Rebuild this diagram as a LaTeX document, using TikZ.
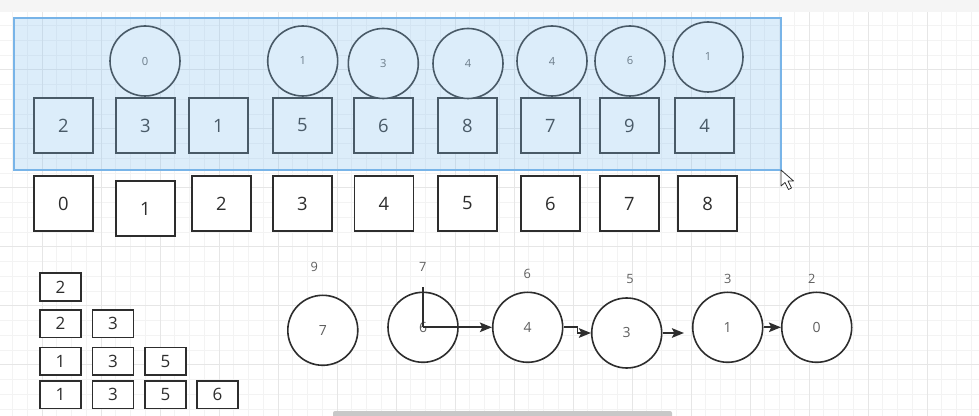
\documentclass[tikz,border=0pt]{standalone}
\usepackage{fontspec}
\setmainfont{Open Sans}
\usetikzlibrary{positioning,arrows.meta}
\definecolor{gridminor}{RGB}{243,243,243}
\definecolor{gridmajor}{RGB}{230,230,230}
\definecolor{topgray}{RGB}{245,245,245}
\definecolor{selblue}{RGB}{140,196,240}
\definecolor{selline}{RGB}{120,180,232}
\definecolor{ink}{RGB}{45,45,45}
\definecolor{numgray}{RGB}{95,95,95}
\definecolor{barcol}{RGB}{200,200,200}

\begin{document}
\begin{tikzpicture}[x=0.5pt,y=-0.5pt,
    box/.style={draw=ink,fill=white,line width=0.8pt,minimum width=29.5pt,minimum height=27.5pt,
      inner sep=0pt,text=ink,font=\fontsize{9.2}{9.2}\selectfont},
    cell/.style={box,minimum width=20.5pt,minimum height=13.75pt,font=\fontsize{8.5}{8.5}\selectfont},
    ball/.style={draw=ink,fill=white,circle,line width=0.8pt,minimum size=35pt,inner sep=0pt,
      text=numgray,font=\fontsize{5.6}{5.6}\selectfont},
    bigball/.style={ball,font=\fontsize{7}{7}\selectfont},
    tag/.style={text=numgray,inner sep=0pt,font=\fontsize{6.4}{6.4}\selectfont},
    arr/.style={draw=ink,line width=0.8pt,-{Stealth[length=6pt,width=4.8pt,inset=1.2pt]}}]
    \useasboundingbox (0,0) rectangle (979,416);
    \fill[white] (0,0) rectangle (979,416);
    \foreach \k in {-3,...,64} {
      \draw[gridminor,line width=0.5pt] ({42+14.75*\k},12) -- ({42+14.75*\k},416);
    }
    \foreach \k in {0,...,28} {
      \draw[gridminor,line width=0.5pt] (0,{11+14.75*\k}) -- (979,{11+14.75*\k});
    }
    \foreach \k in {-1,...,16} {
      \draw[gridmajor,line width=0.5pt] ({42+59*\k},12) -- ({42+59*\k},416);
    }
    \foreach \k in {0,...,7} {
      \draw[gridmajor,line width=0.5pt] (0,{11+59*\k}) -- (979,{11+59*\k});
    }
    \fill[topgray] (0,0) rectangle (979,12);

    \foreach \n/\x/\v in {val0/63.5/2,val1/145.5/3,val2/218.5/1,val3/302.5/5,val4/383.5/6,
        val5/467.5/8,val6/550.5/7,val7/629.5/9,val8/704.5/4} {
      \node[box] (\n) at (\x,125.5) {\v};
    }
    \foreach \n/\x/\y/\v in {idx0/63.5/203.5/0,idx1/145.5/208.5/1,idx2/221.5/203.5/2,idx3/302.5/203.5/3,
        idx4/384/203.5/4,idx5/467.5/203.5/5,idx6/550.5/203.5/6,idx7/629.5/203.5/7,idx8/707.5/203.5/8} {
      \node[box] (\n) at (\x,\y) {\v};
    }
    \foreach \n/\x/\y/\v in {cnt1/145/61/0,cnt3/302.7/61/1,cnt4/383.3/63.5/3,cnt5/468/63.5/4,
        cnt6/552/61/4,cnt7/630/61/6,cnt8/708/57/1} {
      \node[ball] (\n) at (\x,\y) {\v};
    }
    \fill[selblue,fill opacity=0.3] (14,18) rectangle (781,170);
    \draw[selline,line width=0.6pt] (14,18) rectangle (781,170);

    \foreach \n/\x/\y/\v in {s1a/60.5/287/2,s2a/60.5/323.7/2,s2b/113/323.7/3,s3a/60.5/361.3/1,
        s3b/113/361.3/3,s3c/165.5/361.3/5,s4a/60.5/394.7/1,s4b/113/394.7/3,s4c/165.5/394.7/5,s4d/217.5/394.7/6} {
      \node[cell] (\n) at (\x,\y) {\v};
    }

    \node[bigball] (b7) at (322.8,330.3) {7};
    \node[bigball] (b6) at (423,327.3) {6};
    \node[bigball] (b4) at (527.7,327.3) {4};
    \node[bigball] (b3) at (626.7,333) {3};
    \node[bigball] (b1) at (727.7,327.3) {1};
    \node[bigball] (b0) at (816.7,327.3) {0};
    \node[tag] (t9) at (314.3,266.7) {9};
    \node[tag] (t7) at (422.7,266.7) {7};
    \node[tag] (t6) at (527.3,274) {6};
    \node[tag] (t5) at (630,279.3) {5};
    \node[tag] (t3) at (727.7,279.3) {3};
    \node[tag] (t2) at (811.7,279.3) {2};
    \coordinate (tick) at (423,286.7);
    \draw[ink,line width=0.8pt] (b6.center) -- (tick);
    \draw[arr] (b6.center) -- (b4.west);
    \draw[arr] (b4.east) -- ++(14,0) |- (b3.west);
    \draw[arr] (b3.east) -- ([xshift=-4pt]b1.west |- b3.east);
    \draw[arr] (b1.east) -- (b0.west);

    \fill[barcol,rounded corners=1pt] (333,411) rectangle (672,418);
    \draw[ink,fill=white,line width=0.4pt,line join=round] (781,170) -- (781,186) -- (785,182.5)
      -- (788.5,189.5) -- (791.5,188) -- (788,181) -- (793.5,181) -- cycle;
  \end{tikzpicture}
\end{document}
